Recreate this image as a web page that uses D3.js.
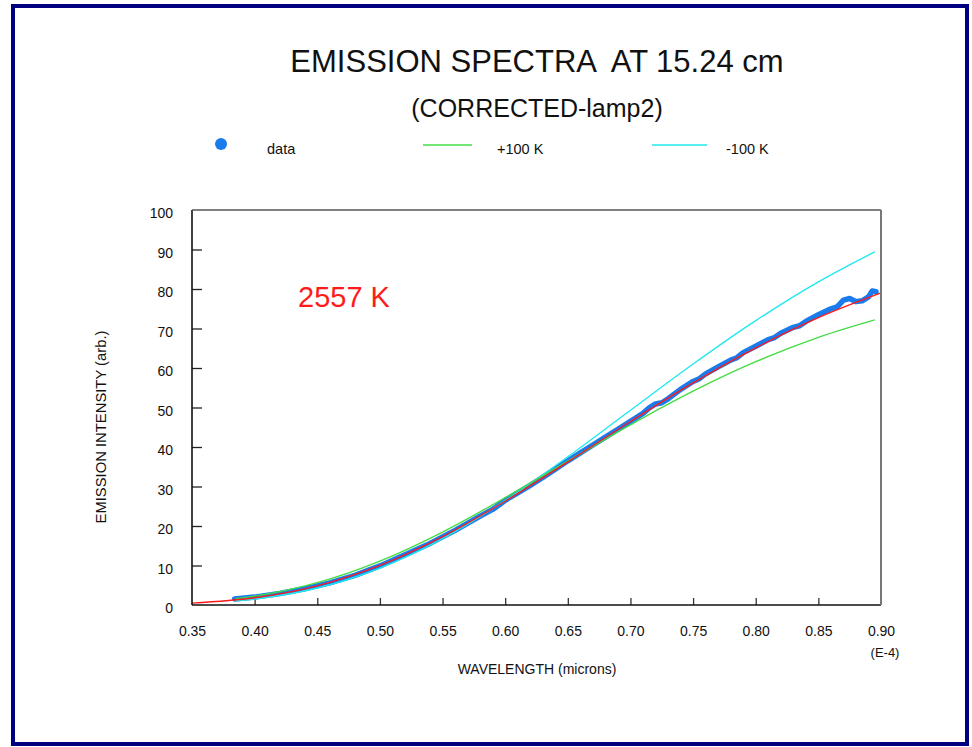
<!DOCTYPE html>
<html>
<head>
<meta charset="utf-8">
<script src="https://cdn.jsdelivr.net/npm/d3@7/dist/d3.min.js"></script>
<style>
  html, body { margin: 0; padding: 0; background: #fff; }
  svg text { font-family: "Liberation Sans", Arial, sans-serif; fill: #111; }
</style>
</head>
<body>
<div id="chart"></div>
<script>
// ---- data ----
const xTicks = [0.35, 0.40, 0.45, 0.50, 0.55, 0.60, 0.65, 0.70, 0.75, 0.80, 0.85, 0.90];
const yTicks = [0, 10, 20, 30, 40, 50, 60, 70, 80, 90, 100];

// measured spectrum (blue)
const dataWl  = [0.384, 0.40, 0.42, 0.44, 0.46, 0.48, 0.50, 0.52, 0.54, 0.56, 0.58, 0.59, 0.595, 0.60, 0.61, 0.62,
                 0.63, 0.64, 0.65, 0.66, 0.67, 0.68, 0.69, 0.70, 0.71, 0.715, 0.72, 0.725, 0.73, 0.74, 0.75, 0.755,
                 0.76, 0.77, 0.78, 0.785, 0.79, 0.80, 0.81, 0.815, 0.82, 0.83, 0.835, 0.84, 0.85, 0.86, 0.865,
                 0.87, 0.875, 0.88, 0.885, 0.89, 0.893, 0.896];
const dataVal = [1.5, 2.0, 2.9, 4.1, 5.6, 7.5, 9.9, 12.7, 15.6, 18.9, 22.5, 24.2, 25.3, 26.5, 28.4, 30.3,
                 32.3, 34.4, 36.5, 38.5, 40.5, 42.5, 44.5, 46.5, 48.5, 49.9, 50.9, 51.2, 52.2, 54.6, 56.6, 57.3,
                 58.5, 60.3, 62.0, 62.6, 63.9, 65.5, 67.2, 67.7, 68.8, 70.3, 70.7, 71.8, 73.5, 75.0, 75.5,
                 77.2, 77.6, 76.8, 77.0, 78.0, 79.5, 79.3];

// 2557 K fit (red)
const fitWl  = [0.35, 0.40, 0.45, 0.50, 0.55, 0.60, 0.65, 0.70, 0.75, 0.80, 0.85, 0.90];
const fitVal = [0.48, 1.84, 4.86, 10.02, 17.31, 26.28, 36.24, 46.44, 56.22, 65.09, 72.74, 79.0];

// +100 K (green)
const plusWl  = [0.385, 0.40, 0.45, 0.50, 0.55, 0.60, 0.65, 0.70, 0.75, 0.80, 0.85, 0.895];
const plusVal = [1.62, 2.26, 5.65, 11.11, 18.47, 27.16, 36.44, 45.62, 54.14, 61.59, 67.77, 72.18];

// -100 K (cyan)
const minusWl  = [0.385, 0.40, 0.45, 0.50, 0.55, 0.60, 0.65, 0.70, 0.75, 0.80, 0.85, 0.895];
const minusVal = [1.04, 1.52, 4.30, 9.34, 16.81, 26.43, 37.52, 49.30, 61.00, 71.98, 81.80, 89.4];

const legendLabels = ["data", "+100 K", "-100 K"];

// ---- layout ----
const W = 972, H = 747;
const plot = { left: 192, right: 881, top: 210, bottom: 605 };
const colors = { data: "#1a7cec", fit: "#ff1a1a", plus: "#44dd44", minus: "#22e8f0", frame: "#000080" };

const svg = d3.select("#chart")
  .append("svg")
    .attr("width", W)
    .attr("height", H)
    .attr("viewBox", `0 0 ${W} ${H}`);

// outer navy border
svg.append("rect")
  .attr("x", 13).attr("y", 6)
  .attr("width", 954).attr("height", 738)
  .attr("fill", "none")
  .attr("stroke", colors.frame)
  .attr("stroke-width", 4);

// scales
const x = d3.scaleLinear().domain([0.35, 0.90]).range([plot.left, plot.right]);
const y = d3.scaleLinear().domain([0, 100]).range([plot.bottom, plot.top]);

// titles
svg.append("text")
  .attr("x", 537).attr("y", 72)
  .attr("text-anchor", "middle")
  .style("font-size", "31px")
  .style("white-space", "pre")
  .text("EMISSION SPECTRA  AT 15.24 cm");
svg.append("text")
  .attr("x", 537).attr("y", 117)
  .attr("text-anchor", "middle")
  .style("font-size", "25px")
  .text("(CORRECTED-lamp2)");

// legend
const legend = svg.append("g").attr("class", "legend");
legend.append("circle").attr("cx", 221).attr("cy", 144).attr("r", 6).attr("fill", colors.data);
legend.append("line").attr("x1", 423).attr("x2", 472).attr("y1", 145).attr("y2", 145)
  .attr("stroke", colors.plus).attr("stroke-width", 1.5);
legend.append("line").attr("x1", 652).attr("x2", 707).attr("y1", 145).attr("y2", 145)
  .attr("stroke", colors.minus).attr("stroke-width", 1.5);
[[267, legendLabels[0]], [497, legendLabels[1]], [726, legendLabels[2]]].forEach(([lx, t]) => {
  legend.append("text").attr("x", lx).attr("y", 154).style("font-size", "14.5px").text(t);
});

// axes
const yAxis = svg.append("g")
  .attr("transform", `translate(${plot.left},0)`)
  .call(d3.axisLeft(y).tickValues(yTicks).tickSize(-10).tickSizeOuter(0).tickPadding(19).tickFormat(d3.format("d")));
yAxis.select(".domain").remove();
yAxis.selectAll(".tick line").attr("stroke", "#222").attr("stroke-width", 1.3);
yAxis.selectAll(".tick text").attr("dy", "0.55em").style("font-size", "14px")
  .style("font-family", "'Liberation Sans', Arial, sans-serif").attr("fill", "#111");
yAxis.selectAll(".tick").filter(d => d === 100 || d === 0).select("line").remove();

const xAxis = svg.append("g")
  .attr("transform", `translate(0,${plot.bottom})`)
  .call(d3.axisBottom(x).tickValues(xTicks).tickSize(-7).tickSizeOuter(0).tickPadding(21).tickFormat(d3.format(".2f")));
xAxis.select(".domain").remove();
xAxis.selectAll(".tick line").attr("stroke", "#333").attr("stroke-width", 1.3);
xAxis.selectAll(".tick text").style("font-size", "14px")
  .style("font-family", "'Liberation Sans', Arial, sans-serif").attr("fill", "#111");
xAxis.selectAll(".tick").filter(d => d === 0.35 || d === 0.90).select("line").remove();

// axis labels
svg.append("text")
  .attr("x", 885).attr("y", 657)
  .attr("text-anchor", "middle")
  .style("font-size", "13px")
  .text("(E-4)");
svg.append("text")
  .attr("x", 537).attr("y", 674)
  .attr("text-anchor", "middle")
  .style("font-size", "14px")
  .text("WAVELENGTH (microns)");
svg.append("text")
  .attr("transform", "translate(106,427) rotate(-90)")
  .attr("text-anchor", "middle")
  .style("font-size", "14.8px")
  .text("EMISSION INTENSITY (arb.)");

// curves
const line = d3.line()
  .x(d => x(d[0]))
  .y(d => y(d[1]));
const smooth = d3.line()
  .x(d => x(d[0]))
  .y(d => y(d[1]))
  .curve(d3.curveMonotoneX);

const zip = (a, b) => a.map((v, i) => [v, b[i]]);

svg.append("path")
  .datum(zip(dataWl, dataVal))
  .attr("fill", "none")
  .attr("stroke", colors.data)
  .attr("stroke-width", 5.5)
  .attr("stroke-linejoin", "round")
  .attr("stroke-linecap", "round")
  .attr("d", line);

svg.append("path")
  .datum(zip(minusWl, minusVal))
  .attr("fill", "none")
  .attr("stroke", colors.minus)
  .attr("stroke-width", 1.4)
  .attr("d", smooth);

svg.append("path")
  .datum(zip(plusWl, plusVal))
  .attr("fill", "none")
  .attr("stroke", colors.plus)
  .attr("stroke-width", 1.4)
  .attr("d", smooth);

svg.append("path")
  .datum(zip(fitWl, fitVal))
  .attr("fill", "none")
  .attr("stroke", colors.fit)
  .attr("stroke-width", 1.3)
  .attr("d", smooth);

// plot frame: left/bottom dark, top/right grey
svg.append("line").attr("x1", plot.left).attr("x2", plot.left).attr("y1", plot.top).attr("y2", plot.bottom)
  .attr("stroke", "#111").attr("stroke-width", 1.6);
svg.append("line").attr("x1", plot.left).attr("x2", plot.right).attr("y1", plot.bottom).attr("y2", plot.bottom)
  .attr("stroke", "#111").attr("stroke-width", 1.6);
svg.append("line").attr("x1", plot.left).attr("x2", plot.right).attr("y1", plot.top).attr("y2", plot.top)
  .attr("stroke", "#555").attr("stroke-width", 1.6);
svg.append("line").attr("x1", plot.right).attr("x2", plot.right).attr("y1", plot.top).attr("y2", plot.bottom)
  .attr("stroke", "#777").attr("stroke-width", 2);

// fitted temperature
svg.append("text")
  .attr("x", 298).attr("y", 307)
  .style("font-size", "29px")
  .style("fill", colors.fit)
  .text("2557 K");
</script>
</body>
</html>
